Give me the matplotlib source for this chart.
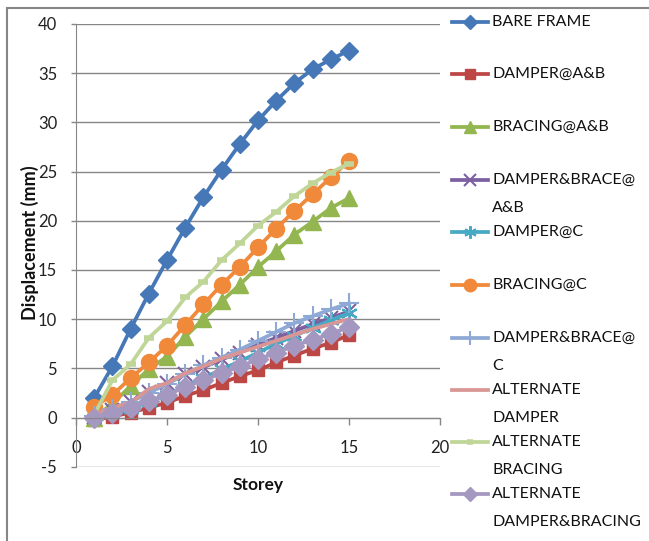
import matplotlib
matplotlib.use("Agg")
import matplotlib.pyplot as plt
from matplotlib.lines import Line2D
from matplotlib.patches import Rectangle

plt.rcParams['font.family'] = ['Lato', 'DejaVu Sans']
plt.rcParams['axes.unicode_minus'] = False

storey = list(range(1, 16))
series_names = ['BARE FRAME', 'DAMPER@A&B', 'BRACING@A&B', 'DAMPER&BRACE@A&B',
                'DAMPER@C', 'BRACING@C', 'DAMPER&BRACE@C', 'ALTERNATE DAMPER',
                'ALTERNATE BRACING', 'ALTERNATE DAMPER&BRACING']
legend_lines = [['BARE FRAME'], ['DAMPER@A&B'], ['BRACING@A&B'], ['DAMPER&BRACE@', 'A&B'],
                ['DAMPER@C'], ['BRACING@C'], ['DAMPER&BRACE@', 'C'], ['ALTERNATE', 'DAMPER'],
                ['ALTERNATE', 'BRACING'], ['ALTERNATE', 'DAMPER&BRACING']]

bare_frame = [2.0, 5.2, 9.0, 12.6, 16.0, 19.3, 22.4, 25.2, 27.8, 30.2, 32.2, 34.0, 35.4, 36.4, 37.3]
damper_ab = [-0.3, 0.1, 0.5, 1.0, 1.5, 2.2, 2.8, 3.5, 4.2, 4.8, 5.6, 6.3, 7.0, 7.6, 8.4]
bracing_ab = [0.0, 1.4, 3.2, 4.9, 6.2, 8.2, 10.0, 11.8, 13.5, 15.3, 16.9, 18.6, 19.9, 21.3, 22.3]
damper_brace_ab = [0.1, 0.8, 1.6, 2.6, 3.5, 4.4, 5.1, 5.9, 6.6, 7.4, 8.1, 8.8, 9.5, 10.1, 10.8]
damper_c = [-0.1, 0.4, 0.9, 1.6, 2.3, 3.2, 4.0, 4.9, 5.7, 6.6, 7.5, 8.3, 9.1, 9.9, 10.6]
bracing_c = [1.1, 2.3, 4.0, 5.6, 7.3, 9.4, 11.5, 13.5, 15.3, 17.3, 19.2, 21.0, 22.7, 24.4, 26.1]
damper_brace_c = [0.2, 0.9, 1.6, 2.5, 3.4, 4.4, 5.3, 6.1, 6.9, 7.8, 8.7, 9.6, 10.3, 11.0, 11.6]
alt_damper = [0.3, 1.0, 1.5, 2.9, 3.5, 4.5, 5.2, 6.0, 6.6, 7.2, 7.8, 8.4, 9.0, 9.5, 10.0]
alt_bracing = [0.3, 3.8, 5.4, 8.1, 9.8, 12.2, 13.8, 16.0, 17.7, 19.5, 20.9, 22.5, 23.8, 24.9, 25.8]
alt_damper_bracing = [0.0, 0.5, 1.0, 1.7, 2.3, 3.1, 3.8, 4.5, 5.2, 5.9, 6.6, 7.3, 7.9, 8.5, 9.2]

values = [bare_frame, damper_ab, bracing_ab, damper_brace_ab, damper_c, bracing_c,
          damper_brace_c, alt_damper, alt_bracing, alt_damper_bracing]

styles = [
    dict(color='#4677B6', marker='D', ms=9.5, mew=1),
    dict(color='#BC4744', marker='s', ms=9, mew=1),
    dict(color='#93B650', marker='^', ms=12, mew=1),
    dict(color='#7D60A0', marker='x', ms=10, mew=1.5),
    dict(color='#46AAC5', marker=(6, 2, 0), ms=12, mew=1.5),
    dict(color='#F0893A', marker='o', ms=11.5, mew=1),
    dict(color='#8EA9D5', marker='+', ms=14, mew=1.5),
    dict(color='#D99694', marker='None', ms=0, mew=1),
    dict(color='#C0D699', marker='_', ms=7, mew=4),
    dict(color='#A497C0', marker='D', ms=10.5, mew=1),
]
legend_ms = [7, 7, 8, 8, 9, 9, 10, 0, 5, 7]

W, H = 649, 541
fig = plt.figure(figsize=(W / 100, H / 100), dpi=100)

def fx(px):
    return px / W

def fy(py):
    return 1 - py / H

L, R, T, B = 76, 440, 24, 466.7
ax = fig.add_axes([fx(L), fy(B), fx(R) - fx(L), fy(T) - fy(B)])

grey = '#868686'
for vals, st in zip(values, styles):
    ax.plot(storey, vals, color=st['color'], lw=2.7, marker=st['marker'],
            markersize=st['ms'], markeredgewidth=st['mew'],
            markerfacecolor=st['color'], markeredgecolor=st['color'], clip_on=False)

ax.set_xlim(0, 20)
ax.set_ylim(-5, 40)
ax.set_xticks([0, 5, 10, 15, 20])
ax.set_yticks(list(range(-5, 41, 5)))
ax.yaxis.grid(True, color=grey, lw=1)
ax.set_axisbelow(True)
for s in ['top', 'right']:
    ax.spines[s].set_visible(False)
ax.spines['left'].set_color(grey)
ax.spines['bottom'].set_color(grey)
ax.spines['bottom'].set_position(('data', 0))
ax.tick_params(axis='x', direction='out', length=5, width=1, color=grey, pad=11,
               labelsize=12, labelcolor='#222222')
ax.tick_params(axis='y', direction='out', length=3.6, width=1, color=grey, pad=10,
               labelsize=12, labelcolor='#222222')

fig.text(fx(30), fy(243), 'Displacement (mm)', rotation=90, ha='center', va='center',
         fontsize=13, fontweight='bold', color='#111111')
fig.text(fx(258), fy(485), 'Storey', ha='center', va='center',
         fontsize=12.5, fontweight='bold', color='#111111')

# legend (drawn manually to mimic the spreadsheet layout)
entry_y = [22, 74, 127, 180, 232, 285, 338, 390, 442, 494]
for lines, st, y, lms in zip(legend_lines, styles, entry_y, legend_ms):
    fig.add_artist(Line2D([fx(452), fx(488)], [fy(y), fy(y)], color=st['color'], lw=2.7,
                          transform=fig.transFigure))
    if lms > 0:
        fig.add_artist(Line2D([fx(470)], [fy(y)], color=st['color'], lw=0,
                              marker=st['marker'], markersize=lms,
                              markeredgewidth=st['mew'], markerfacecolor=st['color'],
                              markeredgecolor=st['color'], transform=fig.transFigure))
    for k, txt in enumerate(lines):
        fig.text(fx(492), fy(y + 28 * k), txt, ha='left', va='center', fontsize=11.5,
                 color='#111111')

fig.add_artist(Rectangle((fx(7), fy(620)), fx(720), fy(8) - fy(620), fill=False,
                         edgecolor=grey, lw=1.5, transform=fig.transFigure, clip_on=False))

fig.savefig('out.png', dpi=100)
